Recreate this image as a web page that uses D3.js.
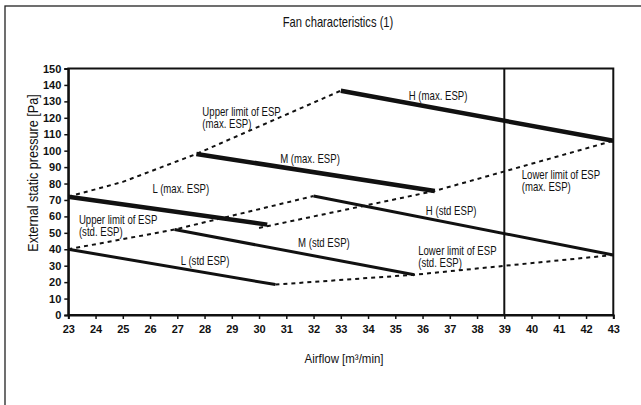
<!DOCTYPE html>
<html>
<head>
<meta charset="utf-8">
<script src="https://cdn.jsdelivr.net/npm/d3@7"></script>
<style>
  body { margin: 0; background: #fff; }
  text { fill: #111; font-family: "Liberation Sans", Arial, sans-serif; }
  .tick text { font-weight: bold; font-size: 11px; }
</style>
</head>
<body>
<svg id="chart" width="641" height="405"></svg>
<script>
// fan curves: [airflow, pressure]
var lMax = [[23, 72], [30.3, 55]];
var mMax = [[27.7, 98], [36.45, 75.5]];
var hMax = [[33, 136.5], [43, 106]];
var lStd = [[23, 40], [30.6, 18.5]];
var mStd = [[26.9, 52], [35.7, 24.5]];
var hStd = [[32, 72.4], [43, 36.5]];

// limit curves (dashed)
var upperMax = [[23, 72], [25, 81], [27.7, 98], [33, 136.5]];
var upperStd = [[23, 40], [26.9, 52], [32, 72.4]];
var lowerMax = [[30, 53], [36.45, 75.5], [43, 106]];
var lowerStd = [[30.6, 18.5], [35.7, 24.5], [43, 36.5]];

var xTicks = d3.range(23, 44);
var yTicks = d3.range(0, 151, 10);
var boundary = 39;

var curves = [
  { pts: lMax, w: 4.5 }, { pts: mMax, w: 4.5 }, { pts: hMax, w: 4.5 },
  { pts: lStd, w: 3 }, { pts: mStd, w: 3 }, { pts: hStd, w: 3 }
];
var limits = [upperMax, upperStd, lowerMax, lowerStd];

// label text and anchor position in data units
var labels = [
  { t: ["H (max. ESP)"], x: 36.57, y: 130.8, a: "middle" },
  { t: ["M (max. ESP)"], x: 31.87, y: 92.5, a: "middle" },
  { t: ["L (max. ESP)"], x: 27.13, y: 74.2, a: "middle" },
  { t: ["Upper limit of ESP", "(max. ESP)"], x: 27.92, y: 121.1, a: "start" },
  { t: ["Upper limit of ESP", "(std. ESP)"], x: 23.39, y: 55.1, a: "start" },
  { t: ["L (std ESP)"], x: 28.02, y: 30.7, a: "middle" },
  { t: ["M (std ESP)"], x: 32.38, y: 41.4, a: "middle" },
  { t: ["H (std ESP)"], x: 37.05, y: 60.6, a: "middle" },
  { t: ["Lower limit of ESP", "(std. ESP)"], x: 35.84, y: 36.8, a: "start" },
  { t: ["Lower limit of ESP", "(max. ESP)"], x: 39.64, y: 82.5, a: "start" }
];

var svg = d3.select("#chart");
var margin = { top: 68.5, right: 27.7, bottom: 90, left: 68.3 },
    width = 641 - margin.left - margin.right,
    height = 405 - margin.top - margin.bottom;

// condensed text: the chart uses a narrow face, so squeeze horizontally
var narrow = function(parent, px, py, lines, size, sx, anchor, rot) {
  var tr = "translate(" + px + "," + py + ")" + (rot ? " rotate(" + rot + ")" : "") + " scale(" + sx + ",1)";
  var t = parent.append("g").attr("transform", tr)
    .append("text")
    .attr("text-anchor", anchor)
    .style("font-size", size + "px");
  lines.forEach(function(s, i) {
    t.append("tspan").attr("x", 0).attr("y", i * 12).text(s);
  });
  return t;
};

// outer frame
svg.append("rect")
  .attr("x", 5).attr("y", 6)
  .attr("width", 650).attr("height", 420)
  .attr("fill", "none").attr("stroke", "#222").attr("stroke-width", 1.3);

narrow(svg, 338, 27, ["Fan characteristics (1)"], 14, 0.8, "middle");

var g = svg.append("g").attr("transform", "translate(" + margin.left + "," + margin.top + ")");

var x = d3.scaleLinear().domain([23, 43]).range([0, width]);
var y = d3.scaleLinear().domain([0, 150]).range([height, 0]);

// plot frame
g.append("rect")
  .attr("width", width).attr("height", height)
  .attr("fill", "none").attr("stroke", "#111").attr("stroke-width", 2);

g.append("line")
  .attr("x1", x(boundary)).attr("x2", x(boundary))
  .attr("y1", 0).attr("y2", height)
  .attr("stroke", "#111").attr("stroke-width", 2);

var xAxis = g.append("g")
  .attr("transform", "translate(0," + height + ")")
  .call(d3.axisBottom(x).tickValues(xTicks).tickSize(4).tickPadding(6).tickFormat(d3.format("d")));
var yAxis = g.append("g")
  .call(d3.axisLeft(y).tickValues(yTicks).tickSize(4).tickPadding(3).tickFormat(d3.format("d")));
[xAxis, yAxis].forEach(function(ax) {
  ax.select(".domain").attr("stroke", "#111").attr("stroke-width", 2);
  ax.selectAll(".tick line").attr("stroke", "#111").attr("stroke-width", 1.5);
  ax.selectAll(".tick text").attr("fill", "#111");
});

var line = d3.line()
  .x(function(d) { return x(d[0]); })
  .y(function(d) { return y(d[1]); });

g.selectAll(".limit")
  .data(limits)
  .enter().append("path")
  .attr("class", "limit")
  .attr("d", line)
  .attr("fill", "none")
  .attr("stroke", "#111")
  .attr("stroke-width", 2)
  .attr("stroke-dasharray", "4,4");

g.selectAll(".curve")
  .data(curves)
  .enter().append("path")
  .attr("class", "curve")
  .attr("d", function(d) { return line(d.pts); })
  .attr("fill", "none")
  .attr("stroke", "#111")
  .attr("stroke-width", function(d) { return d.w; });

labels.forEach(function(d) {
  narrow(g, x(d.x), y(d.y), d.t, 12, 0.8, d.a);
});

// axis titles
narrow(svg, 344, 363, ["Airflow [m³/min]"], 13.5, 0.85, "middle");
narrow(svg, 38, 173, ["External static pressure [Pa]"], 14, 0.9, "middle", -90);
</script>
</body>
</html>
